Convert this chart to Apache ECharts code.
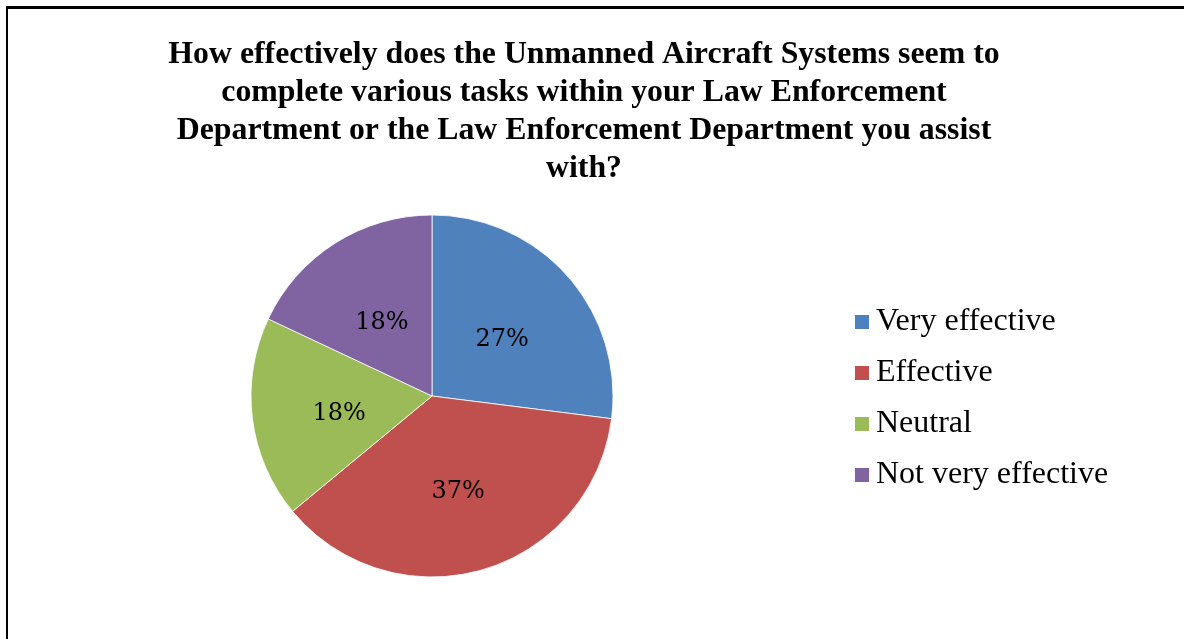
<!DOCTYPE html>
<html>
<head>
<meta charset="utf-8">
<script src="https://cdn.jsdelivr.net/npm/echarts@6/dist/echarts.min.js"></script>
<style>
  html, body { margin: 0; padding: 0; background: #fff; }
  #chart { width: 1184px; height: 639px; }
</style>
</head>
<body>
<div id="chart"></div>
<script>
// Survey responses on UAS effectiveness (percent of respondents)
const categories = ['Very effective', 'Effective', 'Neutral', 'Not very effective'];
const shares = [27, 37, 18, 18];
const colors = ['#4F81BD', '#C0504D', '#9BBB59', '#8064A2'];
const titleText = 'How effectively does the Unmanned Aircraft Systems seem to\n' +
  'complete various tasks within your Law Enforcement\n' +
  'Department or the Law Enforcement Department you assist\n' +
  'with?';

const chart = echarts.init(document.getElementById('chart'), null, { renderer: 'canvas' });

chart.setOption({
  backgroundColor: '#ffffff',
  animation: false,
  title: {
    text: titleText,
    left: 584,
    top: 36,
    textAlign: 'center',
    padding: 0,
    textStyle: {
      fontFamily: '"Liberation Serif", "Times New Roman", serif',
      fontWeight: 'bold',
      fontSize: 31.8,
      lineHeight: 37.8,
      color: '#000'
    }
  },
  legend: {
    orient: 'vertical',
    left: 853,
    top: 306,
    padding: 0,
    icon: 'rect',
    itemWidth: 16,
    itemHeight: 16,
    itemGap: 19,
    data: categories,
    textStyle: {
      fontFamily: '"Liberation Serif", "Times New Roman", serif',
      fontSize: 32,
      lineHeight: 32,
      color: '#000',
      padding: [0, 0, 0, 1]
    },
    selectedMode: false
  },
  graphic: [
    { type: 'line', shape: { x1: 7, y1: 6, x2: 7, y2: 650 }, style: { stroke: '#000', lineWidth: 2 } },
    { type: 'line', shape: { x1: 6, y1: 7.5, x2: 1190, y2: 7.5 }, style: { stroke: '#000', lineWidth: 3 } }
  ],
  series: [{
    type: 'pie',
    center: [432, 396],
    radius: [0, 181],
    startAngle: 90,
    clockwise: true,
    avoidLabelOverlap: false,
    itemStyle: { borderColor: '#ffffff', borderWidth: 0.8 },
    label: {
      show: true,
      position: 'inside',
      formatter: '{c}%',
      fontFamily: '"DejaVu Serif", serif',
      fontSize: 24,
      color: '#000'
    },
    labelLayout: { dy: 6 },
    labelLine: { show: false },
    emphasis: { disabled: true },
    data: categories.map((name, i) => ({
      name: name,
      value: shares[i],
      itemStyle: { color: colors[i] }
    }))
  }]
});
</script>
</body>
</html>
